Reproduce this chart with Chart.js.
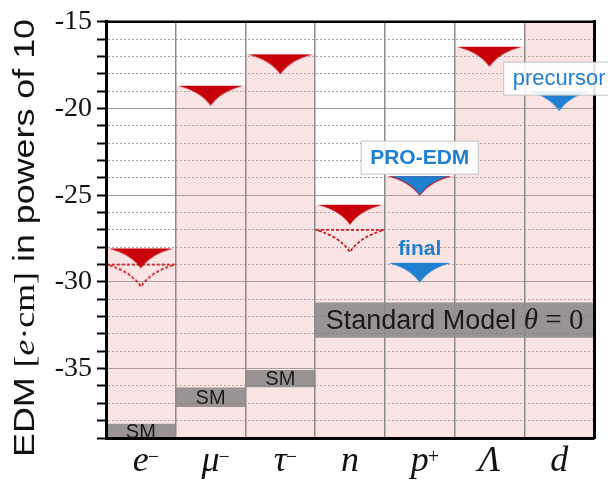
<!DOCTYPE html>
<html>
<head>
<meta charset="utf-8">
<script src="https://cdn.jsdelivr.net/npm/chart.js@4.4.1/dist/chart.umd.min.js"></script>
<style>
  html, body { margin: 0; padding: 0; background: #fff; }
</style>
</head>
<body>
<canvas id="edmChart" width="608" height="480"></canvas>
<script>
// ---- data (log10 of EDM in e*cm) ----
const particleBase = ["e", "\u03BC", "\u03C4", "n", "p", "\u039B", "d"];
const particleCharge = ["\u2212", "\u2212", "\u2212", "", "+", "", ""];
const yLabelled = [-15, -20, -25, -30, -35];
const excludedTop = [-28.07, -18.69, -16.88, -25.55, -23.9, -16.44, -15];
const currentLimit = [-28.07, -18.69, -16.88, -25.55, -23.9, -16.44, null];
const projectedLimit = [-29.0, null, null, -27.0, null, null, null];
const proEdmFirst = [null, null, null, null, -23.9, null, null];
const proEdmFinal = [null, null, null, null, -28.9, null, null];
const precursorD = [null, null, null, null, null, null, -19.0];
const smLow = [-39, -37.2, -36.05, -33.2, -33.2, -33.2, -33.2];
const smHigh = [-38.2, -36.1, -35.1, -31.2, -31.2, -31.2, -31.2];
const smText = ["SM", "SM", "SM", "", "", "", ""];
const smWideText = ["Standard Model ", "\u03B8", " = 0"];

const sans = '"Liberation Sans", Arial, sans-serif';
const serif = '"Liberation Serif", "Times New Roman", serif';
const red = '#c8000a';
const blue = '#1f80d2';
const xFont = 'italic 36px ' + serif;

// concave arrow head, top edge at canvas centre
function arrow(w, h, fill, dashed) {
  const c = document.createElement('canvas');
  c.width = w + 4;
  c.height = 2 * h + 4;
  const g = c.getContext('2d');
  const x0 = 2, top = h + 2, mid = c.width / 2, tip = top + h;
  g.beginPath();
  g.moveTo(x0, top);
  g.lineTo(x0 + w, top);
  g.quadraticCurveTo(mid + 0.3 * w / 2, top + 0.3 * h, mid, tip);
  g.quadraticCurveTo(mid - 0.3 * w / 2, top + 0.3 * h, x0, top);
  g.closePath();
  if (dashed) {
    g.setLineDash([3, 2]);
    g.lineWidth = 1.6;
    g.strokeStyle = fill;
    g.stroke();
  } else {
    g.fillStyle = fill;
    g.fill();
  }
  return c;
}

const redHead = arrow(64, 20, red, false);
const dashHead = arrow(68, 22, red, true);
const blueSmall = arrow(57, 19, blue, false);
const blueHead = arrow(62, 20, blue, false);

const labelStyle = {
  "PRO-EDM": { font: 'bold 21px ' + sans, dy: 19, box: true },
  "final": { font: 'bold 21px ' + sans, dy: 15, box: false },
  "precursor": { font: '22px ' + sans, dy: 13, box: true }
};

const annotate = {
  id: 'annotate',
  afterDraw(chart) {
    const { ctx, chartArea: a, scales: { x, y } } = chart;
    ctx.save();
    // top frame
    ctx.strokeStyle = '#000';
    ctx.lineWidth = 2.5;
    ctx.beginPath();
    ctx.moveTo(a.left - 1.5, a.top);
    ctx.lineTo(a.right + 1.5, a.top);
    ctx.stroke();

    // charge superscripts on the category labels
    ctx.fillStyle = '#111';
    ctx.textAlign = 'left';
    ctx.textBaseline = 'alphabetic';
    particleCharge.forEach((q, i) => {
      if (!q) return;
      ctx.font = xFont;
      const w = ctx.measureText(particleBase[i]).width;
      ctx.font = '20px ' + serif;
      ctx.fillText(q, x.getPixelForValue(i) + w / 2 - 1, a.bottom + 25);
    });

    // SM labels
    ctx.fillStyle = '#1a1a1a';
    ctx.textAlign = 'center';
    ctx.textBaseline = 'middle';
    ctx.font = '20px ' + sans;
    smText.forEach((t, i) => {
      if (!t) return;
      ctx.fillText(t, x.getPixelForValue(i), y.getPixelForValue((smLow[i] + smHigh[i]) / 2) + 1);
    });

    // wide SM label over n..d
    const fonts = ['27px ' + sans, 'italic 29px ' + serif, '29px ' + serif];
    let total = 0;
    const widths = smWideText.map((t, k) => { ctx.font = fonts[k]; const w = ctx.measureText(t).width; total += w; return w; });
    const cx = (x.getPixelForValue(3) + x.getPixelForValue(6)) / 2;
    const cy = y.getPixelForValue((smLow[3] + smHigh[3]) / 2);
    let px = cx - total / 2;
    ctx.textAlign = 'left';
    ctx.textBaseline = 'alphabetic';
    smWideText.forEach((t, k) => {
      ctx.font = fonts[k];
      ctx.fillText(t, px, cy + 9);
      px += widths[k];
    });

    // blue labels
    chart.data.datasets.forEach(ds => {
      const st = labelStyle[ds.label];
      if (!st) return;
      const i = ds.data.findIndex(v => v !== null);
      const lx = x.getPixelForValue(i);
      const ly = y.getPixelForValue(ds.data[i]) - st.dy;
      ctx.font = st.font;
      const w = ctx.measureText(ds.label).width;
      if (st.box) {
        ctx.fillStyle = 'rgba(255,255,255,0.9)';
        ctx.strokeStyle = 'rgba(190,190,190,0.9)';
        ctx.lineWidth = 1;
        ctx.fillRect(lx - w / 2 - 9, ly - 16, w + 18, 33);
        ctx.strokeRect(lx - w / 2 - 9, ly - 16, w + 18, 33);
      }
      ctx.fillStyle = blue;
      ctx.textAlign = 'center';
      ctx.textBaseline = 'middle';
      ctx.fillText(ds.label, lx, ly + 1);
    });

    // y axis title with mixed fonts
    const pieces = [['EDM ', '30px ' + sans], ['[', '30px ' + serif], ['e', 'italic 30px ' + serif],
                    ['\u00B7cm]', '30px ' + serif], [' in powers of 10', '30px ' + sans]];
    let len = 0;
    const pw = pieces.map(p => { ctx.font = p[1]; const w = ctx.measureText(p[0]).width; len += w; return w; });
    ctx.translate(34, 238);
    ctx.rotate(-Math.PI / 2);
    ctx.scale(438 / len, 1);
    ctx.fillStyle = '#111';
    ctx.textAlign = 'left';
    ctx.textBaseline = 'alphabetic';
    let tx = -len / 2;
    pieces.forEach((p, k) => { ctx.font = p[1]; ctx.fillText(p[0], tx, 0); tx += pw[k]; });
    ctx.restore();
  }
};

const ctx = document.getElementById('edmChart').getContext('2d');
new Chart(ctx, {
  type: 'bar',
  data: {
    labels: particleBase.map((b, i) => b + particleCharge[i]),
    datasets: [
      {
        label: 'excluded',
        data: excludedTop.map(v => [-39, v]),
        backgroundColor: 'rgba(240,170,170,0.32)',
        borderWidth: 0,
        grouped: false,
        barPercentage: 1,
        categoryPercentage: 1,
        order: 10
      },
      {
        label: 'SM',
        data: smLow.map((v, i) => [v, smHigh[i]]),
        backgroundColor: 'rgba(120,120,120,0.75)',
        borderWidth: 0,
        grouped: false,
        barPercentage: 1,
        categoryPercentage: 1,
        order: 9
      },
      {
        type: 'line',
        label: 'projected',
        data: projectedLimit,
        showLine: false,
        pointStyle: dashHead,
        pointRadius: 5,
        order: 6
      },
      {
        type: 'line',
        label: 'current',
        data: currentLimit,
        showLine: false,
        pointStyle: redHead,
        pointRadius: 5,
        order: 5
      },
      {
        type: 'line',
        label: 'PRO-EDM',
        data: proEdmFirst,
        showLine: false,
        pointStyle: blueSmall,
        pointRadius: 5,
        order: 3
      },
      {
        type: 'line',
        label: 'final',
        data: proEdmFinal,
        showLine: false,
        pointStyle: blueHead,
        pointRadius: 5,
        order: 3
      },
      {
        type: 'line',
        label: 'precursor',
        data: precursorD,
        showLine: false,
        pointStyle: blueHead,
        pointRadius: 5,
        order: 3
      }
    ]
  },
  options: {
    responsive: false,
    animation: false,
    layout: { padding: { top: 20, left: 0, right: 0, bottom: 0 } },
    plugins: { legend: { display: false }, tooltip: { enabled: false } },
    scales: {
      x: {
        offset: true,
        grid: { offset: true, color: '#8c8c8c', lineWidth: 1.5, drawTicks: false, z: 1 },
        border: { color: '#000', width: 3, z: 2 },
        ticks: {
          callback: (v, i) => particleBase[i],
          font: { family: serif, style: 'italic', size: 36 },
          color: '#111',
          padding: 2,
          maxRotation: 0,
          autoSkip: false
        },
        afterFit(s) { s.height = 42; }
      },
      y: {
        min: -39,
        max: -15,
        ticks: {
          stepSize: 1,
          autoSkip: false,
          callback: v => yLabelled.includes(v) ? String(v) : '',
          font: { family: serif, size: 28 },
          color: '#111',
          padding: 5
        },
        grid: { color: '#a0a0a0', lineWidth: 1, tickColor: '#000', tickWidth: 2, tickLength: 9, tickBorderDash: [] },
        border: { color: '#000', width: 3, dash: [2, 2], z: 2 },
        afterFit(s) { s.width = 106; }
      },
      y2: {
        position: 'right',
        min: -39,
        max: -15,
        ticks: { display: false, stepSize: 5 },
        grid: { color: '#9a9a9a', lineWidth: 1, drawTicks: false, z: 1 },
        border: { color: '#000', width: 3, dash: [2, 2], z: 2 },
        afterFit(s) { s.width = 14; }
      }
    }
  },
  plugins: [annotate]
});
</script>
</body>
</html>
